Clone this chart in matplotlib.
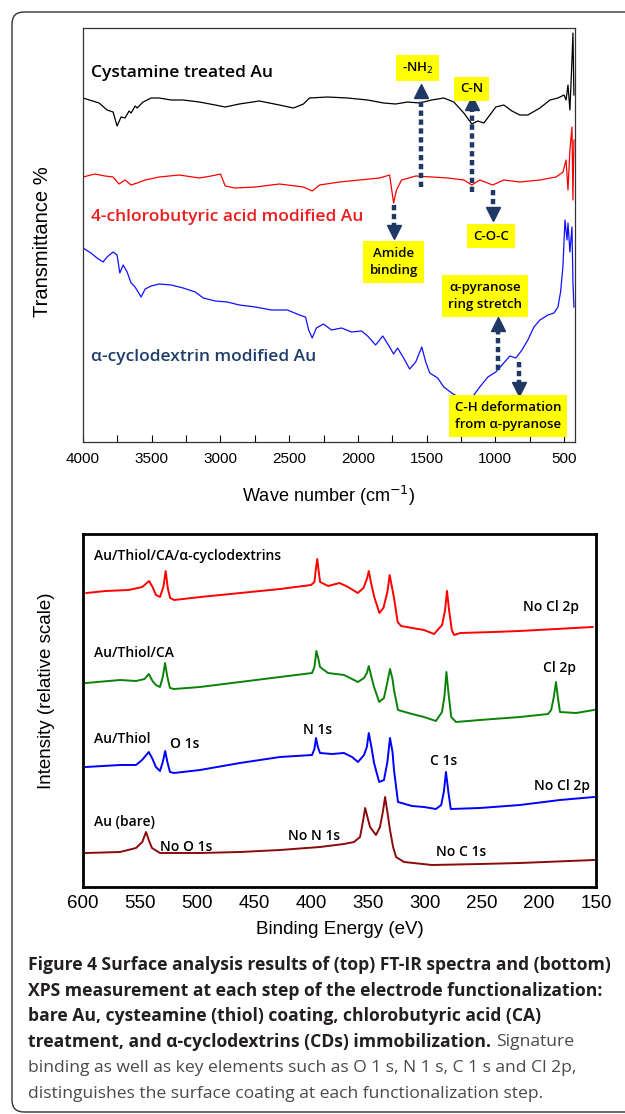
import numpy as np
import matplotlib
matplotlib.use("Agg")
import matplotlib.pyplot as plt
from matplotlib.patches import FancyBboxPatch
from matplotlib.transforms import IdentityTransform
from matplotlib.ticker import MultipleLocator

plt.rcParams["font.family"] = ["Liberation Sans", "DejaVu Sans"]
LABEL_FONT = ["Open Sans", "DejaVu Sans"]
NAVY = "#1f3864"

# ---- FT-IR spectra (wave number, transmittance in arbitrary units) ----
cystamine = [(4000, 344), (3883, 339), (3825, 332), (3781, 330), (3752, 316), (3723, 325),
             (3694, 324), (3665, 331), (3650, 329), (3620, 336), (3606, 334), (3563, 340),
             (3504, 344), (3446, 344), (3358, 342), (3271, 342), (3154, 340), (3038, 337),
             (2965, 335), (2863, 338), (2717, 341), (2571, 337), (2469, 334), (2396, 338),
             (2352, 344), (2221, 345), (2075, 344), (1929, 342), (1813, 339), (1725, 338),
             (1638, 340), (1550, 339), (1463, 342), (1375, 344), (1302, 340), (1229, 329),
             (1171, 318), (1127, 321), (1083, 319), (996, 335), (938, 337), (879, 331),
             (821, 327), (763, 327), (675, 334), (602, 342), (544, 344), (500, 347),
             (485, 342), (471, 357), (457, 332), (442, 382), (435, 409), (428, 347)]

chlorobutyric = [(4000, 265), (3913, 268), (3840, 266), (3781, 265), (3738, 258), (3694, 262),
                 (3650, 257), (3606, 259), (3548, 262), (3446, 265), (3300, 267), (3154, 264),
                 (3067, 266), (3000, 268), (2965, 256), (2892, 254), (2746, 255), (2571, 258),
                 (2396, 255), (2332, 251), (2279, 257), (2133, 260), (1988, 262), (1842, 264),
                 (1769, 267), (1740, 239), (1719, 252), (1682, 262), (1579, 266), (1463, 265),
                 (1346, 264), (1229, 262), (1171, 257), (1113, 262), (1019, 257), (938, 262),
                 (821, 260), (675, 262), (558, 265), (507, 270), (485, 282), (471, 252),
                 (457, 292), (442, 315), (435, 242), (428, 302)]

cyclodextrin = [(4000, 194), (3942, 189), (3898, 184), (3854, 180), (3825, 185), (3781, 190),
                (3752, 187), (3732, 169), (3708, 177), (3679, 170), (3650, 159), (3621, 155),
                (3577, 145), (3548, 153), (3504, 156), (3446, 158), (3358, 157), (3271, 154),
                (3183, 150), (3125, 144), (3038, 141), (2950, 140), (2863, 137), (2746, 135),
                (2629, 132), (2513, 132), (2425, 127), (2381, 125), (2358, 112), (2332, 104),
                (2302, 114), (2250, 118), (2192, 112), (2119, 114), (2046, 110), (1973, 111),
                (1929, 106), (1871, 97), (1819, 106), (1769, 95), (1740, 88), (1711, 94),
                (1667, 84), (1623, 73), (1579, 80), (1535, 95), (1506, 80), (1477, 69),
                (1419, 64), (1375, 55), (1317, 49), (1258, 44), (1200, 42), (1156, 47),
                (1113, 55), (1054, 65), (996, 70), (938, 79), (894, 86), (850, 84),
                (806, 92), (763, 102), (719, 115), (675, 122), (617, 127), (573, 129),
                (544, 135), (525, 150), (508, 175), (493, 222), (478, 202), (471, 219),
                (457, 190), (442, 215), (435, 160), (428, 135)]

ir_names = ["Cystamine treated Au", "4-chlorobutyric acid modified Au", "α-cyclodextrin modified Au"]
ir_colors = ["black", "#ff0000", "#1010ff"]
ir_text_colors = ["black", "#ee1c1c", "#1f3d6b"]
ir_label_pos = [(3942, 369), (3942, 225), (3942, 85)]

# label, text position, arrow wave number, arrow start, arrow tip
ir_marks = [("-NH$_2$", (1565, 374), 1544, 255, 357),
            ("C-N", (1171, 353), 1171, 250, 345),
            ("C-O-C", (1032, 206), 1019, 252, 222),
            ("Amide\nbinding", (1740, 180), 1740, 237, 204),
            ("α-pyranose\nring stretch", (1076, 146), 981, 72, 124),
            ("C-H deformation\nfrom α-pyranose", (908, 26), 827, 80, 47)]

# ---- XPS survey (binding energy eV, relative intensity) ----
xps_cd = [(597, 294), (580, 296), (560, 297), (548, 300), (544, 304), (542, 306), (539, 300),
          (536, 292), (532.5, 290), (529.5, 300), (527.5, 316), (525.5, 298), (523.5, 289),
          (520, 287), (497, 290), (462, 294), (427, 298), (400, 302), (397, 305), (395.5, 320),
          (394.5, 328), (393.5, 318), (392, 305), (385, 301), (375, 304), (367.5, 300),
          (359, 294), (354, 299), (351, 308), (349.3, 316), (347.5, 305), (344.5, 290),
          (340, 274), (336.5, 279), (333, 295), (331, 312), (329, 300), (327, 288), (324, 265),
          (321, 261), (311, 259), (301, 257), (292, 253), (285, 262), (282.5, 276),
          (280.7, 296), (279, 278), (276.5, 257), (274.5, 252), (269, 254), (240, 255),
          (217, 256), (185, 258), (153, 260)]

xps_ca = [(597.4, 204), (567.5, 207), (553.5, 206), (546, 208), (542.3, 213), (539, 206),
          (536.1, 202), (532.5, 200), (530, 210), (528, 224), (526, 210), (523.7, 199),
          (520.2, 198), (497.4, 200), (462.3, 205), (427.2, 210), (399.1, 214), (397, 220),
          (395.3, 236), (393.5, 228), (392.1, 220), (385.1, 214), (371, 212), (358.8, 205),
          (353.5, 209), (351, 214), (349.3, 221), (347, 210), (344.7, 200), (340.2, 185),
          (336, 189), (333, 205), (330.7, 218), (328.5, 208), (327.2, 197), (323.7, 177),
          (311.4, 173), (300.9, 170), (290.4, 166), (285.1, 175), (283, 190), (281.2, 215),
          (279.5, 195), (277, 170), (272.8, 165), (251.8, 167), (216.7, 170), (192.1, 173),
          (189.3, 177), (187, 190), (185.1, 205), (183.5, 190), (181.6, 175), (167.5, 174),
          (151.8, 177)]

xps_thiol = [(597.4, 120), (567.5, 122), (553.5, 122), (548.2, 127), (542.3, 135), (539, 128),
             (536.1, 120), (532.5, 116), (530, 125), (527.9, 136), (526, 125), (523.7, 115),
             (520.2, 114), (497.4, 117), (462.3, 124), (427.2, 130), (399.1, 132), (397, 138),
             (395.6, 149), (394, 140), (392.1, 134), (381.6, 133), (371.1, 134), (364, 130),
             (358.8, 125), (353.5, 132), (351, 140), (349.3, 154), (347, 140), (344.7, 124),
             (340.2, 105), (336, 107), (333, 125), (330.7, 149), (328.5, 135), (327.2, 117),
             (323.7, 85), (311.4, 81), (300.9, 80), (290.4, 78), (285.8, 82), (283.5, 95),
             (281.6, 115), (279.5, 95), (277.4, 78), (251.8, 79), (216.7, 82), (181.6, 87),
             (151.8, 90)]

xps_bare = [(597.4, 34), (567.5, 35), (553.5, 39), (548, 45), (544.7, 55), (542, 46),
            (539.5, 39), (532.5, 34), (497.4, 34), (462.3, 35), (427.2, 37), (392.1, 40),
            (371.1, 43), (362.3, 45), (357, 50), (354.5, 65), (352.5, 79), (350.5, 70),
            (348.2, 60), (343, 52), (339.5, 60), (337, 75), (335, 90), (333, 75), (330.7, 57),
            (328, 40), (325.4, 30), (318.4, 25), (293.9, 22), (251.8, 23), (216.7, 24),
            (151.8, 27)]

xps_series = [xps_cd, xps_ca, xps_thiol, xps_bare]
xps_colors = ["#ff0000", "#0a820a", "#0000ff", "#8b0a0a"]

# text, position, alignment
xps_labels = [("Au/Thiol/CA/α-cyclodextrins", (590.4, 331), "left"),
              ("No Cl 2p", (189.5, 280), "center"),
              ("Au/Thiol/CA", (590.4, 234), "left"),
              ("Cl 2p", (181.6, 219), "center"),
              ("N 1s", (393.9, 157), "center"),
              ("Au/Thiol", (590.4, 148), "left"),
              ("O 1s", (510.5, 143), "center"),
              ("C 1s", (283.3, 126), "center"),
              ("No Cl 2p", (179.8, 101), "center"),
              ("Au (bare)", (590.4, 65), "left"),
              ("No O 1s", (509.6, 40), "center"),
              ("No N 1s", (397.4, 51), "center"),
              ("No C 1s", (268.4, 35), "center")]

caption_bold = ["Figure 4 Surface analysis results of (top) FT-IR spectra and (bottom)",
                "XPS measurement at each step of the electrode functionalization:",
                "bare Au, cysteamine (thiol) coating, chlorobutyric acid (CA)",
                "treatment, and α-cyclodextrins (CDs) immobilization."]
caption_plain = ["Signature",
                 "binding as well as key elements such as O 1 s, N 1 s, C 1 s and Cl 2p,",
                 "distinguishes the surface coating at each functionalization step."]


def dotted_arrow(ax, x, y0, y1):
    """dotted shaft with a solid triangle head at y1"""
    sign = 1 if y1 > y0 else -1
    head = 12
    ax.plot([x, x], [y0, y1 - sign * head], color=NAVY, lw=3.2,
            ls=(0, (1.2, 0.8)), dash_capstyle="butt", zorder=4)
    ax.plot([x], [y1 - sign * head / 2], marker="^" if sign > 0 else "v",
            ms=9.5, color=NAVY, ls="none", zorder=4)


fig = plt.figure(figsize=(6.25, 11.14), dpi=100)

# outer frame
frame = FancyBboxPatch((12, 2), 640, 1100, boxstyle="round,pad=0,rounding_size=12",
                       transform=IdentityTransform(), fc="none", ec="#333333", lw=1.0)
fig.patches.append(frame)

# ---------------- FT-IR panel ----------------
ax1 = fig.add_axes([83 / 625, 1 - 442 / 1114, 492 / 625, 414 / 1114])
for data, c in zip([cystamine, chlorobutyric, cyclodextrin], ir_colors):
    wn, t = np.array(data).T
    ax1.plot(wn, t, color=c, lw=0.9)
for name, c, (px, py) in zip(ir_names, ir_text_colors, ir_label_pos):
    ax1.text(px, py, name, color=c, fontsize=12.5, family=LABEL_FONT, weight="semibold",
             ha="left", va="center")
for label, (tx, ty), ax_x, y0, y1 in ir_marks:
    ax1.text(tx, ty, label, fontsize=9.5, family=LABEL_FONT, weight="semibold",
             ha="center", va="center", linespacing=1.45, zorder=5,
             bbox=dict(boxstyle="square,pad=0.45", fc="#ffff00", ec="none"))
    dotted_arrow(ax1, ax_x, y0, y1)

ax1.set_xlim(4000, 420)
ax1.set_ylim(0, 414)
ax1.set_yticks([])
ax1.xaxis.set_major_locator(MultipleLocator(500))
ax1.xaxis.set_minor_locator(MultipleLocator(250))
ax1.tick_params(axis="x", which="both", direction="in", length=5, width=0.8,
                labelsize=11, pad=7)
for s in ax1.spines.values():
    s.set_linewidth(0.9)
    s.set_color("#333333")
ax1.set_xlabel("Wave number (cm$^{-1}$)", fontsize=13)
ax1.xaxis.set_label_coords(0.5, -0.1)
ax1.set_ylabel("Transmittance %", fontsize=14.5)
ax1.yaxis.set_label_coords(-0.063, 0.483)

# ---------------- XPS panel ----------------
ax2 = fig.add_axes([83 / 625, 1 - 887 / 1114, 513 / 625, 353 / 1114])
for data, c in zip(xps_series, xps_colors):
    be, inten = np.array(data).T
    ax2.plot(be, inten, color=c, lw=1.4)
for text, (px, py), ha in xps_labels:
    ax2.text(px, py, text, fontsize=10, family=LABEL_FONT, weight="semibold",
             ha=ha, va="center")
ax2.set_xlim(600, 150)
ax2.set_ylim(0, 353)
ax2.set_yticks([])
ax2.xaxis.set_major_locator(MultipleLocator(50))
ax2.tick_params(axis="x", length=0, labelsize=13.5, pad=6)
for s in ax2.spines.values():
    s.set_linewidth(2)
ax2.set_xlabel("Binding Energy (eV)", fontsize=13.5)
ax2.xaxis.set_label_coords(0.5, -0.096)
ax2.set_ylabel("Intensity (relative scale)", fontsize=13.5)
ax2.yaxis.set_label_coords(-0.055, 0.555)

# ---------------- caption ----------------
line_y = [965, 991, 1016, 1042, 1068, 1094]
for i, line in enumerate(caption_bold):
    t = fig.text(28 / 625, 1 - line_y[i] / 1114, line, fontsize=12.6, family=LABEL_FONT,
                 weight="bold", color="#231f20", va="center")
renderer = fig.canvas.get_renderer()
bb = t.get_window_extent(renderer=renderer)
fig.text((bb.x1 + 5) / 625, 1 - line_y[3] / 1114, caption_plain[0], fontsize=12.6,
         family=LABEL_FONT, weight="normal", color="#4a4a4a", va="center")
for i, line in enumerate(caption_plain[1:]):
    fig.text(28 / 625, 1 - line_y[4 + i] / 1114, line, fontsize=12.6, family=LABEL_FONT,
             weight="normal", color="#4a4a4a", va="center")

fig.savefig("out.png", dpi=100)
